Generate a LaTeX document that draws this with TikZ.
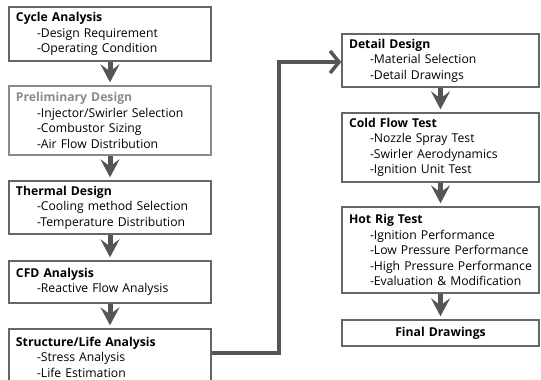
\documentclass[tikz,border=0pt]{standalone}
\usepackage{fontspec}
\setmainfont{Open Sans}
\usetikzlibrary{arrows.meta}

\definecolor{boxgray}{HTML}{666666}
\definecolor{arrowgray}{HTML}{555555}
\definecolor{softgray}{HTML}{8A8A8A}
% indented sub item
\newcommand{\ind}{\hspace*{21pt}-}

\begin{document}
\begin{tikzpicture}[x=1pt, y=-1pt,
  box/.style={draw=boxgray, line width=1.3pt, rectangle, inner xsep=6pt, inner ysep=0pt, align=left, font=\fontsize{12.2}{15.5}\selectfont},
  leftbox/.style={box, minimum width=202pt, text width=188pt},
  rightbox/.style={box, minimum width=197pt, text width=183pt},
  down/.style={arrowgray, line width=5pt, shorten >=3pt, -{Stealth[length=18pt, width=19pt, inset=7pt]}},
  link/.style={arrowgray, line width=3.5pt, -{Straight Barb[length=9pt, width=22pt]}}]
\clip (0,0) rectangle (541,380);

\node (cycle) at (110,34) [leftbox, minimum height=54pt] {\textbf{Cycle Analysis}\\ \ind Design Requirement\\ \ind Operating Condition};
\node (prelim) at (110,120.5) [leftbox, draw=softgray, minimum height=69pt] {\textcolor{softgray}{\textbf{Preliminary Design}}\\ \ind Injector/Swirler Selection\\ \ind Combustor Sizing\\ \ind Air Flow Distribution};
\node (thermal) at (110,207.5) [leftbox, minimum height=53pt] {\textbf{Thermal Design}\\ \ind Cooling method Selection\\ \ind Temperature Distribution};
\node (cfd) at (110,282) [leftbox, minimum height=42pt] {\textbf{CFD Analysis}\\ \ind Reactive Flow Analysis};
\node (struct) at (110,357) [leftbox, minimum height=56pt] {\textbf{Structure/Life Analysis}\\ \ind Stress Analysis\\ \ind Life Estimation};

\node (detail) at (440.5,60.5) [rightbox, minimum height=53pt] {\textbf{Detail Design}\\ \ind Material Selection\\ \ind Detail Drawings};
\node (cold) at (440.5,147.5) [rightbox, minimum height=69pt] {\textbf{Cold Flow Test}\\ \ind Nozzle Spray Test\\ \ind Swirler Aerodynamics\\ \ind Ignition Unit Test};
\node (hot) at (440.5,250) [rightbox, minimum height=86pt] {\textbf{Hot Rig Test}\\ \ind Ignition Performance\\ \ind Low Pressure Performance\\ \ind High Pressure Performance\\ \ind Evaluation \& Modification};
\node (final) at (440.5,333) [rightbox, align=center, minimum height=26pt] {\textbf{Final Drawings}};

\draw[down] (cycle) to (prelim);
\draw[down] (prelim) to (thermal);
\draw[down] (thermal) to (cfd);
\draw[down] (cfd) to (struct);
\draw[down] (detail) to (cold);
\draw[down] (cold) to (hot);
\draw[down] (hot) to (final);

\coordinate (bend) at (279,200);
\draw[link] ([yshift=4pt]struct.east) -| (bend) |- ([yshift=-1.5pt]detail.west);
\end{tikzpicture}
\end{document}
